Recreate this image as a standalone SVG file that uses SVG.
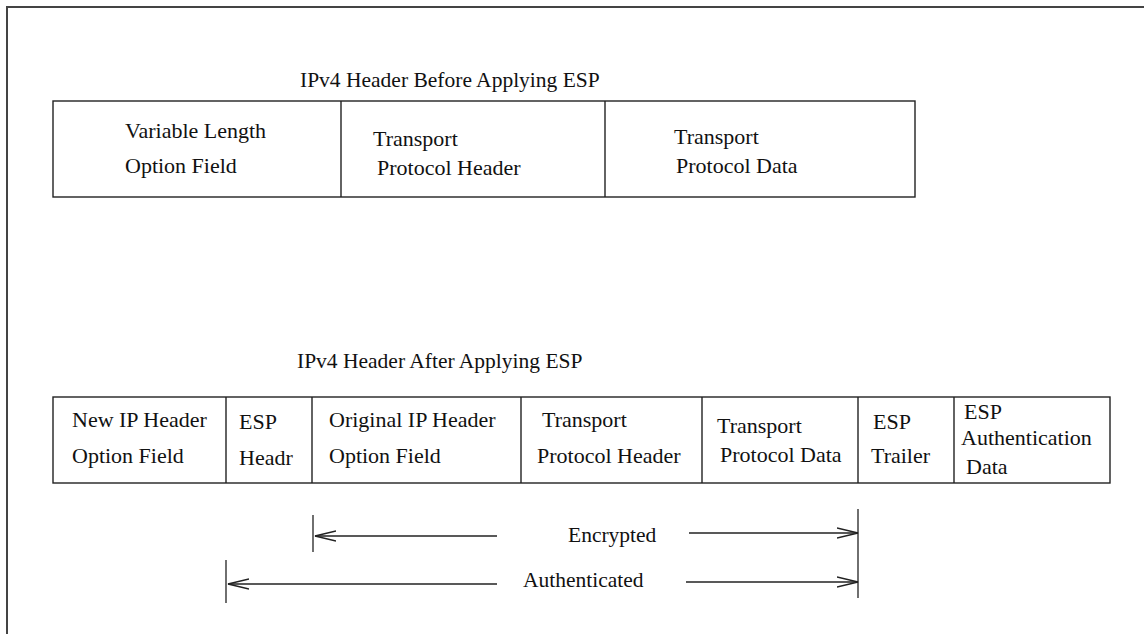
<svg xmlns="http://www.w3.org/2000/svg" width="1144" height="634" viewBox="0 0 1144 634">
<style>
  text { font-size: 22px; fill: #111; }
  .title, .lbl { font-size: 21.5px; }
  .box { fill: #fff; stroke: #222; stroke-width: 1.4; }
  .div { stroke: #222; stroke-width: 1.4; }
  .frame { fill: none; stroke: #444; stroke-width: 2; }
  .conn { stroke: #222; stroke-width: 1.3; fill: none; }
</style>
<defs>
  <marker id="open" viewBox="0 0 22 12" refX="21" refY="6" markerWidth="22" markerHeight="12" markerUnits="userSpaceOnUse" orient="auto-start-reverse">
    <path d="M0,1 L21,6 L0,11" fill="none" stroke="#222" stroke-width="1.3"/>
  </marker>
</defs>
<rect width="1144" height="634" fill="#fff"/>
<path class="frame" d="M7,634 V7 H1144"/>
<g font-family="'Liberation Serif', 'Times New Roman', Times, serif">
<text class="title" x="300" y="87">IPv4 Header Before Applying ESP</text>
<g id="before">
  <rect class="box" x="53" y="101" width="862" height="96"/>
  <g id="b-option">
    <text x="125" y="138">Variable Length</text>
    <text x="125" y="173">Option Field</text>
  </g>
  <line class="div" x1="341" y1="101" x2="341" y2="197"/>
  <g id="b-tph">
    <text x="373" y="146">Transport</text>
    <text x="377" y="175">Protocol Header</text>
  </g>
  <line class="div" x1="605" y1="101" x2="605" y2="197"/>
  <g id="b-tpd">
    <text x="674" y="144">Transport</text>
    <text x="676" y="173">Protocol Data</text>
  </g>
</g>

<text class="title" x="297" y="368">IPv4 Header After Applying ESP</text>
<g id="after">
  <rect class="box" x="53" y="397" width="1057" height="86"/>
  <g id="a-newip">
    <text x="72" y="427">New IP Header</text>
    <text x="72" y="463">Option Field</text>
  </g>
  <line class="div" x1="226" y1="397" x2="226" y2="483"/>
  <g id="a-esph">
    <text x="239" y="429">ESP</text>
    <text x="239" y="465">Headr</text>
  </g>
  <line class="div" x1="312" y1="397" x2="312" y2="483"/>
  <g id="a-origip">
    <text x="329" y="427">Original IP Header</text>
    <text x="329" y="463">Option Field</text>
  </g>
  <line class="div" x1="521" y1="397" x2="521" y2="483"/>
  <g id="a-tph">
    <text x="542" y="427">Transport</text>
    <text x="537" y="463">Protocol Header</text>
  </g>
  <line class="div" x1="702" y1="397" x2="702" y2="483"/>
  <g id="a-tpd">
    <text x="717" y="433">Transport</text>
    <text x="720" y="462">Protocol Data</text>
  </g>
  <line class="div" x1="858" y1="397" x2="858" y2="483"/>
  <g id="a-trailer">
    <text x="873" y="429">ESP</text>
    <text x="871" y="463">Trailer</text>
  </g>
  <line class="div" x1="954" y1="397" x2="954" y2="483"/>
  <g id="a-auth">
    <text x="964" y="419">ESP</text>
    <text x="961" y="445">Authentication</text>
    <text x="966" y="474">Data</text>
  </g>
</g>

<g id="connectors">
  <line class="conn" x1="313" y1="515" x2="313" y2="552"/>
  <line class="conn" x1="858" y1="509" x2="858" y2="598"/>
  <line class="conn" x1="226" y1="560" x2="226" y2="603"/>
  <line class="conn" x1="497" y1="536" x2="315" y2="536" marker-end="url(#open)"/>
  <line class="conn" x1="689" y1="533" x2="858" y2="533" marker-end="url(#open)"/>
  <line class="conn" x1="497" y1="584" x2="228" y2="584" marker-end="url(#open)"/>
  <line class="conn" x1="686" y1="582" x2="858" y2="582" marker-end="url(#open)"/>
  <text class="lbl" x="568" y="542">Encrypted</text>
  <text class="lbl" x="523" y="587">Authenticated</text>
</g>
</g>
</svg>
